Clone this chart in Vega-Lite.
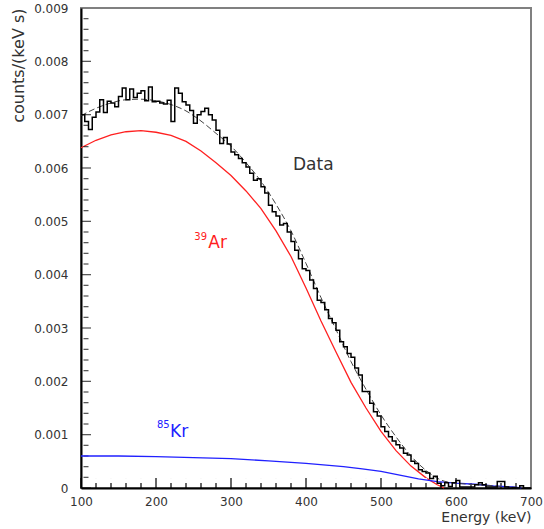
{
  "$schema": "https://vega.github.io/schema/vega-lite/v6.json",
  "autosize": "none",
  "width": 450,
  "height": 480,
  "padding": {"left": 81, "top": 8, "right": 13, "bottom": 41},
  "background": "white",
  "config": {
    "view": {"stroke": "#808080", "strokeWidth": 2},
    "font": "DejaVu Sans",
    "axis": {"grid": false, "ticks": false, "labelFlush": false, "labelFont": "DejaVu Sans", "titleFont": "DejaVu Sans", "labelColor": "#333", "titleColor": "#333", "titleFontWeight": "normal", "domainColor": "black", "domainWidth": 2}
  },
  "datasets": {
    "xticks": [
      {"e":100,"k":"major"},{"e":120,"k":"minor"},{"e":140,"k":"minor"},{"e":160,"k":"minor"},{"e":180,"k":"minor"},
      {"e":200,"k":"major"},{"e":220,"k":"minor"},{"e":240,"k":"minor"},{"e":260,"k":"minor"},{"e":280,"k":"minor"},
      {"e":300,"k":"major"},{"e":320,"k":"minor"},{"e":340,"k":"minor"},{"e":360,"k":"minor"},{"e":380,"k":"minor"},
      {"e":400,"k":"major"},{"e":420,"k":"minor"},{"e":440,"k":"minor"},{"e":460,"k":"minor"},{"e":480,"k":"minor"},
      {"e":500,"k":"major"},{"e":520,"k":"minor"},{"e":540,"k":"minor"},{"e":560,"k":"minor"},{"e":580,"k":"minor"},
      {"e":600,"k":"major"},{"e":620,"k":"minor"},{"e":640,"k":"minor"},{"e":660,"k":"minor"},{"e":680,"k":"minor"}
    ],
    "yt": [
      {"v":0.0000,"k":"major"},{"v":0.0002,"k":"minor"},{"v":0.0004,"k":"minor"},{"v":0.0006,"k":"minor"},{"v":0.0008,"k":"minor"},
      {"v":0.0010,"k":"major"},{"v":0.0012,"k":"minor"},{"v":0.0014,"k":"minor"},{"v":0.0016,"k":"minor"},{"v":0.0018,"k":"minor"},
      {"v":0.0020,"k":"major"},{"v":0.0022,"k":"minor"},{"v":0.0024,"k":"minor"},{"v":0.0026,"k":"minor"},{"v":0.0028,"k":"minor"},
      {"v":0.0030,"k":"major"},{"v":0.0032,"k":"minor"},{"v":0.0034,"k":"minor"},{"v":0.0036,"k":"minor"},{"v":0.0038,"k":"minor"},
      {"v":0.0040,"k":"major"},{"v":0.0042,"k":"minor"},{"v":0.0044,"k":"minor"},{"v":0.0046,"k":"minor"},{"v":0.0048,"k":"minor"},
      {"v":0.0050,"k":"major"},{"v":0.0052,"k":"minor"},{"v":0.0054,"k":"minor"},{"v":0.0056,"k":"minor"},{"v":0.0058,"k":"minor"},
      {"v":0.0060,"k":"major"},{"v":0.0062,"k":"minor"},{"v":0.0064,"k":"minor"},{"v":0.0066,"k":"minor"},{"v":0.0068,"k":"minor"},
      {"v":0.0070,"k":"major"},{"v":0.0072,"k":"minor"},{"v":0.0074,"k":"minor"},{"v":0.0076,"k":"minor"},{"v":0.0078,"k":"minor"},
      {"v":0.0080,"k":"major"},{"v":0.0082,"k":"minor"},{"v":0.0084,"k":"minor"},{"v":0.0086,"k":"minor"},{"v":0.0088,"k":"minor"}
    ],
    "hist": [
      {"e":100,"v":0.00700},{"e":105,"v":0.00687},{"e":110,"v":0.00672},{"e":115,"v":0.00695},{"e":120,"v":0.00705},
      {"e":125,"v":0.00728},{"e":130,"v":0.00704},{"e":135,"v":0.00725},{"e":140,"v":0.00722},{"e":145,"v":0.00715},
      {"e":150,"v":0.00734},{"e":155,"v":0.00750},{"e":160,"v":0.00728},{"e":165,"v":0.00748},{"e":170,"v":0.00732},
      {"e":175,"v":0.00740},{"e":180,"v":0.00745},{"e":185,"v":0.00726},{"e":190,"v":0.00752},{"e":195,"v":0.00724},
      {"e":200,"v":0.00725},{"e":205,"v":0.00722},{"e":210,"v":0.00720},{"e":215,"v":0.00727},{"e":220,"v":0.00687},
      {"e":225,"v":0.00750},{"e":230,"v":0.00740},{"e":235,"v":0.00724},{"e":240,"v":0.00718},{"e":245,"v":0.00708},
      {"e":250,"v":0.00684},{"e":255,"v":0.00700},{"e":260,"v":0.00706},{"e":265,"v":0.00712},{"e":270,"v":0.00700},
      {"e":275,"v":0.00690},{"e":280,"v":0.00671},{"e":285,"v":0.00646},{"e":290,"v":0.00657},{"e":295,"v":0.00645},
      {"e":300,"v":0.00630},{"e":305,"v":0.00625},{"e":310,"v":0.00618},{"e":315,"v":0.00610},{"e":320,"v":0.00602},
      {"e":325,"v":0.00590},{"e":330,"v":0.00577},{"e":335,"v":0.00580},{"e":340,"v":0.00565},{"e":345,"v":0.00553},
      {"e":350,"v":0.00530},{"e":355,"v":0.00518},{"e":360,"v":0.00510},{"e":365,"v":0.00493},{"e":370,"v":0.00496},
      {"e":375,"v":0.00480},{"e":380,"v":0.00462},{"e":385,"v":0.00446},{"e":390,"v":0.00430},{"e":395,"v":0.00411},
      {"e":400,"v":0.00408},{"e":405,"v":0.00390},{"e":410,"v":0.00374},{"e":415,"v":0.00352},{"e":420,"v":0.00348},
      {"e":425,"v":0.00334},{"e":430,"v":0.00318},{"e":435,"v":0.00310},{"e":440,"v":0.00296},{"e":445,"v":0.00274},
      {"e":450,"v":0.00265},{"e":455,"v":0.00252},{"e":460,"v":0.00245},{"e":465,"v":0.00225},{"e":470,"v":0.00212},
      {"e":475,"v":0.00181},{"e":480,"v":0.00181},{"e":485,"v":0.00159},{"e":490,"v":0.00143},{"e":495,"v":0.00135},
      {"e":500,"v":0.00115},{"e":505,"v":0.00106},{"e":510,"v":0.00096},{"e":515,"v":0.00088},{"e":520,"v":0.00081},
      {"e":525,"v":0.00075},{"e":530,"v":0.00065},{"e":535,"v":0.00062},{"e":540,"v":0.00050},{"e":545,"v":0.00046},
      {"e":550,"v":0.00034},{"e":555,"v":0.00031},{"e":560,"v":0.00028},{"e":565,"v":0.00018},{"e":570,"v":0.00022},
      {"e":575,"v":0.00009},{"e":580,"v":0.00004},{"e":585,"v":0.00010},{"e":590,"v":0.00003},{"e":595,"v":0.00010},
      {"e":600,"v":0.00014},{"e":605,"v":0.00002},{"e":610,"v":0.00002},{"e":615,"v":0.00002},{"e":620,"v":0.00002},
      {"e":625,"v":0.00006},{"e":630,"v":0.00010},{"e":635,"v":0.00006},{"e":640,"v":0.00002},{"e":645,"v":0.00002},
      {"e":650,"v":0.00002},{"e":655,"v":0.00012},{"e":660,"v":0.00012},{"e":665,"v":0.00002},{"e":670,"v":0.0},
      {"e":675,"v":0.00001},{"e":680,"v":0.0},{"e":685,"v":0.00004},{"e":690,"v":0.0},{"e":695,"v":0.0},
      {"e":700,"v":0.0}
    ],
    "ar": [
      {"e":100,"v":0.00638},{"e":120,"v":0.00652},{"e":140,"v":0.00662},{"e":160,"v":0.00668},{"e":180,"v":0.00670},
      {"e":200,"v":0.00667},{"e":220,"v":0.00661},{"e":240,"v":0.00650},{"e":260,"v":0.00632},{"e":280,"v":0.00610},
      {"e":300,"v":0.00586},{"e":320,"v":0.00557},{"e":340,"v":0.00524},{"e":360,"v":0.00482},{"e":380,"v":0.00434},
      {"e":400,"v":0.00375},{"e":420,"v":0.00313},{"e":440,"v":0.00255},{"e":460,"v":0.00198},{"e":480,"v":0.00150},
      {"e":500,"v":0.00106},{"e":520,"v":0.00070},{"e":540,"v":0.00041},{"e":560,"v":0.00019},{"e":575,"v":0.00006},
      {"e":584,"v":0.0}
    ],
    "kr": [
      {"e":100,"v":0.00060},{"e":150,"v":0.00060},{"e":200,"v":0.00059},{"e":250,"v":0.00057},{"e":300,"v":0.00055},
      {"e":350,"v":0.00051},{"e":400,"v":0.00046},{"e":450,"v":0.00040},{"e":475,"v":0.00036},{"e":500,"v":0.00031},
      {"e":525,"v":0.00024},{"e":550,"v":0.00017},{"e":575,"v":0.00012},{"e":600,"v":0.00009},{"e":625,"v":0.00007},
      {"e":650,"v":0.00004},{"e":675,"v":0.00002},{"e":687,"v":0.0}
    ],
    "fit": [
      {"e":100,"v":0.00698},{"e":120,"v":0.00712},{"e":140,"v":0.00722},{"e":160,"v":0.00728},{"e":180,"v":0.00729},
      {"e":200,"v":0.00726},{"e":220,"v":0.00719},{"e":240,"v":0.00707},{"e":260,"v":0.00688},{"e":280,"v":0.00665},
      {"e":300,"v":0.00641},{"e":320,"v":0.00610},{"e":340,"v":0.00575},{"e":360,"v":0.00532},{"e":380,"v":0.00482},
      {"e":400,"v":0.00421},{"e":420,"v":0.00357},{"e":440,"v":0.00297},{"e":460,"v":0.00237},{"e":480,"v":0.00185},
      {"e":500,"v":0.00137},{"e":520,"v":0.00096},{"e":540,"v":0.00060},{"e":560,"v":0.00033},{"e":580,"v":0.00015},
      {"e":600,"v":0.00009},{"e":620,"v":0.00007},{"e":640,"v":0.00005},{"e":660,"v":0.00003},{"e":687,"v":0.0}
    ],
    "labels": [
      {"e":382.7,"v":0.005963,"t":"Data","c":"data","s":"big"},
      {"e":269.7,"v":0.004494,"t":"Ar","c":"ar","s":"big"},
      {"e":251.1,"v":0.00465,"t":"39","c":"ar","s":"small"},
      {"e":218.7,"v":0.000956,"t":"Kr","c":"kr","s":"big"},
      {"e":201.3,"v":0.001125,"t":"85","c":"kr","s":"small"}
    ]
  },
  "layer": [
    {
      "data": {"name": "ar"},
      "mark": {"type": "line", "color": "#ff2020", "strokeWidth": 1.3},
      "encoding": {
        "x": {"field": "e", "type": "quantitative", "scale": {"domain": [100, 700], "nice": false, "zero": false},
              "axis": {"orient": "bottom", "values": [100,200,300,400,500,600,700], "format": "d", "labelFontSize": 12, "labelPadding": 8, "title": "Energy (keV)", "titleFontSize": 14, "titleAnchor": "end", "titleAlign": "right", "titleBaseline": "middle", "titleX": 450, "titleY": 29}},
        "y": {"field": "v", "type": "quantitative", "scale": {"domain": [0, 0.009], "nice": false},
              "axis": {"orient": "left", "values": [0,0.001,0.002,0.003,0.004,0.005,0.006,0.007,0.008,0.009], "format": ".3~f", "labelFontSize": 12, "labelPadding": 13, "title": "counts/(keV s)", "titleFontSize": 16, "titleAngle": -90, "titleAlign": "right", "titleBaseline": "middle", "titleX": -63, "titleY": 0}}
      }
    },
    {
      "data": {"name": "yt"},
      "mark": {"type": "tick", "color": "black", "orient": "horizontal", "thickness": 1.2, "xOffset": 5},
      "encoding": {
        "y": {"field": "v", "type": "quantitative"},
        "x": {"datum": 100, "type": "quantitative"},
        "size": {"field": "k", "type": "nominal", "scale": {"domain": ["major", "minor"], "range": [10, 5]}, "legend": null}
      }
    },
    {
      "data": {"name": "xticks"},
      "mark": {"type": "point", "shape": "M0,-1L0,1", "filled": false, "color": "black", "strokeWidth": 1.2, "opacity": 1},
      "encoding": {
        "x": {"field": "e", "type": "quantitative"},
        "y": {"datum": 0.00009375, "type": "quantitative"},
        "size": {"field": "k", "type": "nominal", "scale": {"domain": ["major", "minor"], "range": [100, 100]}, "legend": null}
      }
    },
    {
      "data": {"name": "xticks"},
      "transform": [{"filter": "datum.k == 'minor'"}],
      "mark": {"type": "point", "shape": "M0,-1L0,1", "filled": false, "color": "white", "strokeWidth": 2.5, "opacity": 1, "size": 25},
      "encoding": {
        "x": {"field": "e", "type": "quantitative"},
        "y": {"datum": 0.00014, "type": "quantitative"}
      }
    },
    {
      "data": {"name": "kr"},
      "mark": {"type": "line", "color": "#2020ff", "strokeWidth": 1.3},
      "encoding": {
        "x": {"field": "e", "type": "quantitative"},
        "y": {"field": "v", "type": "quantitative"}
      }
    },
    {
      "data": {"name": "fit"},
      "mark": {"type": "line", "color": "#444", "strokeWidth": 1, "strokeDash": [6, 3], "interpolate": "monotone"},
      "encoding": {
        "x": {"field": "e", "type": "quantitative"},
        "y": {"field": "v", "type": "quantitative"}
      }
    },
    {
      "data": {"name": "hist"},
      "mark": {"type": "line", "color": "black", "strokeWidth": 1.5, "interpolate": "step-after"},
      "encoding": {
        "x": {"field": "e", "type": "quantitative"},
        "y": {"field": "v", "type": "quantitative"}
      }
    },
    {
      "data": {"name": "labels"},
      "mark": {"type": "text", "align": "left", "baseline": "alphabetic", "font": "DejaVu Sans"},
      "encoding": {
        "x": {"field": "e", "type": "quantitative"},
        "y": {"field": "v", "type": "quantitative"},
        "text": {"field": "t"},
        "color": {"field": "c", "type": "nominal", "scale": {"domain": ["data", "ar", "kr"], "range": ["#333333", "#ff2020", "#2020ff"]}, "legend": null},
        "size": {"field": "s", "type": "nominal", "scale": {"domain": ["big", "small"], "range": [17, 10]}, "legend": null}
      }
    }
  ],
  "resolve": {"scale": {"size": "independent"}}
}
